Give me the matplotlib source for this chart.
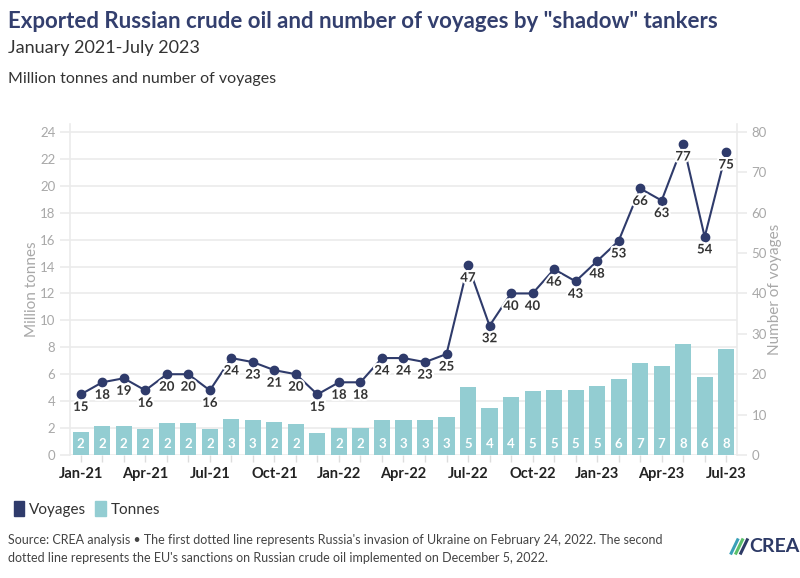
import numpy as np
import matplotlib.pyplot as plt
from matplotlib.patches import Patch
import matplotlib.patheffects as pe

plt.rcParams['font.family'] = ['Lato', 'DejaVu Sans']

# 月份 Jan-21 .. Jul-23
months = ['Jan-21', 'Feb-21', 'Mar-21', 'Apr-21', 'May-21', 'Jun-21', 'Jul-21', 'Aug-21',
          'Sep-21', 'Oct-21', 'Nov-21', 'Dec-21', 'Jan-22', 'Feb-22', 'Mar-22', 'Apr-22',
          'May-22', 'Jun-22', 'Jul-22', 'Aug-22', 'Sep-22', 'Oct-22', 'Nov-22', 'Dec-22',
          'Jan-23', 'Feb-23', 'Mar-23', 'Apr-23', 'May-23', 'Jun-23', 'Jul-23']
tonnes = [1.73, 2.15, 2.15, 1.96, 2.35, 2.35, 1.9, 2.65, 2.58, 2.48, 2.3, 1.66,
          2.03, 2.0, 2.58, 2.58, 2.63, 2.85, 5.03, 3.52, 4.28, 4.75, 4.8, 4.83,
          5.13, 5.67, 6.81, 6.59, 8.25, 5.8, 7.87]
tonne_labels = ['2', '2', '2', '2', '2', '2', '2', '3', '3', '2', '2', '',
                '2', '2', '3', '3', '3', '3', '5', '4', '4', '5', '5', '5',
                '5', '6', '7', '7', '8', '6', '8']
voyages = [15, 18, 19, 16, 20, 20, 16, 24, 23, 21, 20, 15,
           18, 18, 24, 24, 23, 25, 47, 32, 40, 40, 46, 43,
           48, 53, 66, 63, 77, 54, 75]

bar_color = '#93cdd2'
line_color = '#2f3b6b'
grid_color = '#ebebeb'
tick_grey = '#a8a8a8'

fig = plt.figure(figsize=(8, 5.78), dpi=100)
ax = fig.add_axes([0.0875, 0.2128, 0.8337, 0.573])
x = np.arange(len(months))

ax.bar(x, tonnes, width=0.75, color=bar_color, zorder=2)
for xi, lab in zip(x, tonne_labels):
    ax.text(xi, 0.8, lab, ha='center', va='center', color='white',
            fontsize=9.5, fontweight='bold', zorder=3)

ax.set_xlim(-0.5, 30.5)
ax.set_ylim(0, 24.6)
ax.set_yticks(np.arange(0, 25, 2))
ax.grid(axis='y', color=grid_color, lw=1.2, zorder=0)
ax.set_axisbelow(True)
ax.tick_params(axis='y', colors=grid_color, labelcolor=tick_grey, labelsize=9.5, length=7, width=1.2)
ax.set_ylabel('Million tonnes', color=tick_grey, fontsize=11, labelpad=1)

ax.set_xticks(x)
ax.set_xticklabels([m if i % 3 == 0 else '' for i, m in enumerate(months)],
                   fontweight='bold', fontsize=10.5, color='#222222')
ax.tick_params(axis='x', colors='#dddddd', labelcolor='#222222', length=5, width=1)
for s in ['top', 'right', 'bottom']:
    ax.spines[s].set_visible(False)
ax.spines['left'].set_color(grid_color)
ax.spines['left'].set_linewidth(1.2)

ax2 = ax.twinx()
ax2.set_ylim(0, 82)
ax2.set_yticks(np.arange(0, 81, 10))
ax2.tick_params(axis='y', colors=grid_color, labelcolor=tick_grey, labelsize=9.5, length=7, width=1.2)
ax2.set_ylabel('Number of voyages', color=tick_grey, fontsize=11, labelpad=1)
for s in ['top', 'left', 'bottom']:
    ax2.spines[s].set_visible(False)
ax2.spines['right'].set_color(grid_color)
ax2.spines['right'].set_linewidth(1.2)

ax2.plot(x, voyages, color=line_color, lw=1.5, marker='o', ms=6, zorder=3)
halo = [pe.withStroke(linewidth=3, foreground='white')]
for xi, v in zip(x, voyages):
    ax2.annotate(str(v), (xi, v), xytext=(0, -9), textcoords='offset points',
                 ha='center', va='center', fontsize=9.5, fontweight='bold',
                 color='#333333', path_effects=halo, zorder=4)

# 标题
navy = '#333f6e'
fig.text(0.01, 0.963, 'Exported Russian crude oil and number of voyages by "shadow" tankers',
         fontsize=16, fontweight='bold', color=navy, va='center')
fig.text(0.01, 0.917, 'January 2021-July 2023', fontsize=13, color='#333333', va='center')
fig.text(0.01, 0.863, 'Million tonnes and number of voyages', fontsize=11.5, color='#333333', va='center')

fig.legend(handles=[Patch(color=line_color, label='Voyages'), Patch(color=bar_color, label='Tonnes')],
           loc='center left', bbox_to_anchor=(0.0, 0.12), ncol=2, frameon=False,
           fontsize=11, handlelength=0.7, handleheight=1.2, handletextpad=0.3,
           columnspacing=0.6, labelcolor='#333333')

fig.text(0.01, 0.066, "Source: CREA analysis \u2022 The first dotted line represents Russia's invasion of Ukraine on February 24, 2022. The second",
         fontsize=9, color='#444444', va='center')
fig.text(0.01, 0.035, "dotted line represents the EU's sanctions on Russian crude oil implemented on December 5, 2022.",
         fontsize=9, color='#444444', va='center')

# logo
fig.text(0.937, 0.055, 'CREA', fontsize=14, fontweight='bold', color='#2d3a66', va='center')
for i, c in enumerate(['#3aa0b8', '#5bbf6a', '#2d3a66']):
    fig.add_artist(plt.Line2D([0.914 + i * 0.006, 0.922 + i * 0.006], [0.043, 0.066],
                              color=c, lw=2.2, transform=fig.transFigure))

fig.savefig('out.png', dpi=100)
